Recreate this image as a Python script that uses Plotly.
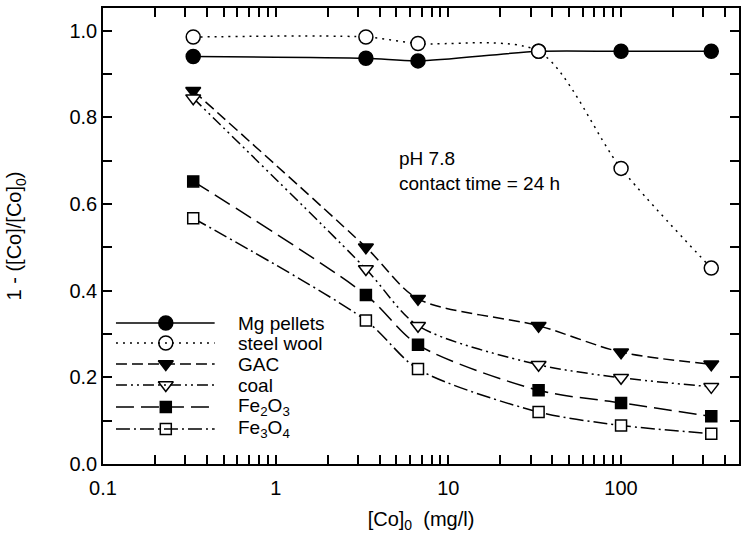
import plotly.graph_objects as go

conc = [0.333, 3.33, 6.67, 33.3, 100, 333]

mg_pellets = [0.940, 0.936, 0.930, 0.952, 0.952, 0.952]
steel_wool = [0.985, 0.985, 0.970, 0.952, 0.682, 0.452]
gac = [0.861, 0.500, 0.381, 0.319, 0.258, 0.230]
coal = [0.844, 0.450, 0.319, 0.229, 0.199, 0.178]
fe2o3 = [0.652, 0.390, 0.275, 0.170, 0.141, 0.110]
fe3o4 = [0.567, 0.331, 0.219, 0.120, 0.089, 0.070]

names = ["Mg pellets", "steel wool", "GAC", "coal",
         "Fe<sub>2</sub>O<sub>3</sub>", "Fe<sub>3</sub>O<sub>4</sub>"]
values = [mg_pellets, steel_wool, gac, coal, fe2o3, fe3o4]

x_tick_vals = [0.1, 1, 10, 100]
x_tick_text = ["0.1", "1", "10", "100"]
y_tick_vals = [0, 0.2, 0.4, 0.6, 0.8, 1.0]
y_tick_text = ["0.0", "0.2", "0.4", "0.6", "0.8", "1.0"]

dashes = ["solid", "2px,5px", "11px,5px", "11px,4px,2px,4px,2px,4px", "18px,7px", "14px,4px,2px,4px"]
symbols = ["circle", "circle", "triangle-down", "triangle-down", "square", "square"]
fills = ["black", "white", "black", "white", "black", "white"]
sizes = [14, 14, 13, 13, 11, 11]

font = "Liberation Sans, Arial, sans-serif"

fig = go.Figure()
for name, vals, dash, sym, fill, size in zip(names, values, dashes, symbols, fills, sizes):
    fig.add_trace(go.Scatter(
        x=conc, y=vals, name=name, mode="lines+markers", showlegend=False,
        line=dict(color="black", width=1.5, dash=dash, shape="spline", smoothing=0.8),
        marker=dict(symbol=sym, size=size, color=fill, line=dict(color="black", width=1.5)),
    ))

# custom legend (long line samples like the original)
L, W, B, H = 103, 638, 464, 456
def px(X):
    return (X - L) / W
def py(Y):
    return (B - Y) / H

leg_rows = [323, 343, 364, 385, 407, 429]
shapes = []
annots = []
for i, (name, dash, sym, fill, size) in enumerate(zip(names, dashes, symbols, fills, sizes)):
    yy = py(leg_rows[i])
    shapes.append(dict(type="line", xref="paper", yref="paper", x0=px(116), x1=px(215),
                       y0=yy, y1=yy, line=dict(color="black", width=1.5, dash=dash)))
    annots.append(dict(xref="paper", yref="paper", x=px(236), y=yy, xanchor="left",
                       yanchor="middle", text=name, showarrow=False,
                       font=dict(size=19, family=font)))
    fig.add_trace(go.Scatter(
        x=[px(166)], y=[yy], xaxis="x2", yaxis="y2", mode="markers", showlegend=False,
        hoverinfo="skip",
        marker=dict(symbol=sym, size=size, color=fill, line=dict(color="black", width=1.5)),
    ))

annots.append(dict(x=px(398), y=py(171), xref="paper", yref="paper", xanchor="left",
                   yanchor="middle", text="pH 7.8<br>contact time = 24 h", showarrow=False,
                   align="left", font=dict(size=19, family=font)))

fig.update_layout(
    width=742, height=542,
    margin=dict(l=103, r=1, t=8, b=78),
    paper_bgcolor="white", plot_bgcolor="white",
    font=dict(family=font, size=19, color="black"),
    showlegend=False,
    xaxis=dict(
        type="log", range=[-1, 2.683],
        tickmode="array", tickvals=x_tick_vals, ticktext=x_tick_text,
        ticks="inside", ticklen=9, tickwidth=1.5, tickcolor="black",
        minor=dict(ticks="inside", ticklen=9, tickwidth=1.5, tickcolor="black",
                   tickmode="array",
                   tickvals=[v * m for m in [0.1, 1, 10, 100] for v in range(2, 10)]),
        showline=True, linecolor="black", linewidth=1.5, mirror="ticks",
        showgrid=False, zeroline=False,
        tickfont=dict(size=20), ticklabelstandoff=5,
        title=dict(text="[Co]<sub>0</sub>  (mg/l)", font=dict(size=20), standoff=14),
    ),
    yaxis=dict(
        range=[0, 1.052], tickmode="array", tickvals=y_tick_vals, ticktext=y_tick_text,
        ticks="inside", ticklen=9, tickwidth=1.5, tickcolor="black",
        minor=dict(ticks="inside", ticklen=9, tickwidth=1.5, tickcolor="black",
                   tickmode="linear", tick0=0, dtick=0.1),
        showline=True, linecolor="black", linewidth=1.5, mirror="ticks",
        showgrid=False, zeroline=False,
        tickfont=dict(size=20), ticklabelstandoff=0,
        title=dict(text="1 - ([Co]/[Co]<sub>0</sub>)", font=dict(size=20), standoff=42),
    ),
    xaxis2=dict(overlaying="x", range=[0, 1], visible=False, fixedrange=True),
    yaxis2=dict(overlaying="y", range=[0, 1], visible=False, fixedrange=True),
    shapes=shapes,
    annotations=annots,
)

fig.write_html("out.html")
